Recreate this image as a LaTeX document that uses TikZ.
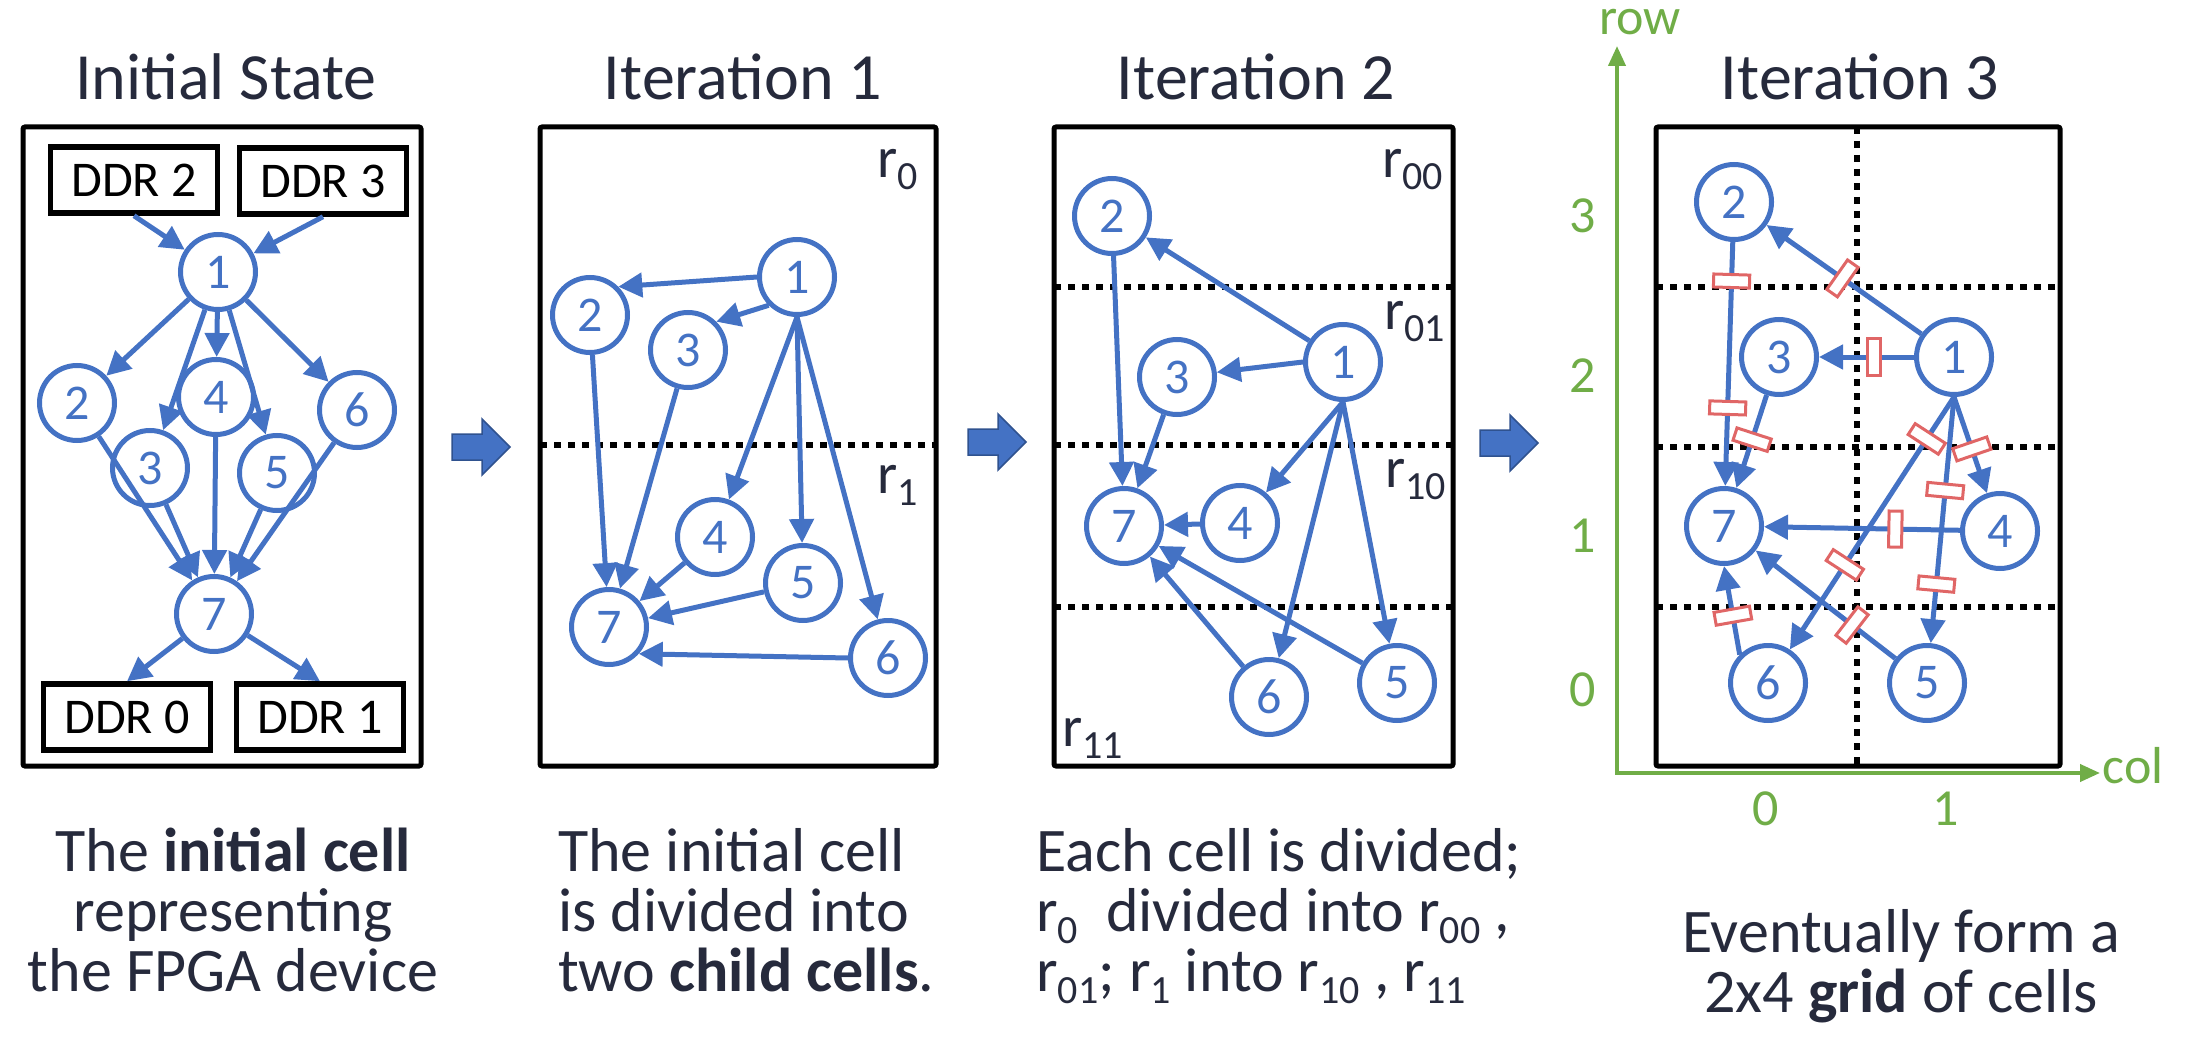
\documentclass[tikz,border=0pt]{standalone}
\usepackage{fontspec}
\setmainfont{Carlito}
\usetikzlibrary{arrows.meta}

\definecolor{nodeblue}{RGB}{68,114,196}
\definecolor{arrowedge}{RGB}{47,82,143}
\definecolor{axisgreen}{RGB}{112,173,71}
\definecolor{markred}{RGB}{224,102,102}
\definecolor{inkblue}{RGB}{38,42,60}

% r with a large, low subscript
\newcommand{\rs}[1]{r\raisebox{-12pt}{\fontsize{40}{40}\selectfont #1}}

\tikzset{
  vertex/.style={circle, draw=nodeblue, fill=white, line width=5pt, minimum size=75pt,
    inner sep=0pt, text=nodeblue, font=\fontsize{50}{50}\selectfont},
  ddr/.style={draw=black, fill=white, line width=5.5pt, minimum width=167pt, minimum height=66pt,
    inner sep=0pt, font=\fontsize{50}{50}\selectfont},
  link/.style={draw=nodeblue, line width=5pt, -{Triangle[length=24pt,width=24pt]}},
  cellbox/.style={draw=black, line width=5pt, rounded corners=2pt},
  cutline/.style={black, line width=6.5pt, dash pattern=on 7pt off 7pt},
  cutmark/.style={draw=markred, fill=white, line width=3pt, minimum width=13pt,
    minimum height=36pt, inner sep=0pt, sloped},
  blockarrow/.style={fill=nodeblue, draw=arrowedge, line width=1.5pt},
  axisline/.style={draw=axisgreen, line width=4pt},
  heading/.style={text=inkblue, font=\fontsize{66}{66}\selectfont, anchor=base},
  captiontext/.style={text=inkblue, font=\fontsize{62}{62}\selectfont, inner sep=0pt},
  regionlabel/.style={text=inkblue, font=\fontsize{58}{58}\selectfont, inner sep=0pt},
  gridlabel/.style={text=axisgreen, font=\fontsize{52}{52}\selectfont, inner sep=0pt}
}

\begin{document}
\begin{tikzpicture}[x=1pt, y=-1pt]
  \useasboundingbox (0,0) rectangle (2186,1064);

  % Titles
  \node[heading] (t0) at (226,100) {Initial State};
  \node[heading] (t1) at (743,100) {Iteration 1};
  \node[heading] (t2) at (1256,100) {Iteration 2};
  \node[heading] (t3) at (1860,100) {Iteration 3};

  % Cells
  \draw[cellbox] (23,127) rectangle (421,766);
  \draw[cellbox] (540,127) rectangle (936,766);
  \draw[cellbox] (1054,127) rectangle (1453,766);
  \draw[cellbox] (1656,127) rectangle (2060,766);

  % Cell borders
  \draw[cutline] (540,445) -- (936,445);
  \foreach \y in {287,445,607}
    \draw[cutline] (1054,\y) -- (1453,\y);
  \foreach \y in {287,447,607}
    \draw[cutline] (1656,\y) -- (2060,\y);
  \draw[cutline] (1857,127) -- (1857,766);

  % Region names
  \node[regionlabel, anchor=base east] (r0) at (918,178) {\rs{0}};
  \node[regionlabel, anchor=base east] (r1) at (918,493) {\rs{1}};
  \node[regionlabel, anchor=base east] (r00) at (1443,178) {\rs{00}};
  \node[regionlabel, anchor=base east] (r01) at (1445,330) {\rs{01}};
  \node[regionlabel, anchor=base east] (r10) at (1446,487) {\rs{10}};
  \node[regionlabel, anchor=base west] (r11) at (1062,746) {\rs{11}};

  % Memory banks
  \node[ddr] (ddr2) at (134,180) {DDR 2};
  \node[ddr] (ddr3) at (323,181) {DDR 3};
  \node[ddr] (ddr0) at (127,717) {DDR 0};
  \node[ddr] (ddr1) at (320,717) {DDR 1};

  % Task graphs, one per step
  \foreach \n/\x/\y in {1/218/272, 2/77/403, 3/150/468, 4/216/397, 5/277/473, 6/357/410, 7/214/614}
    \node[vertex] (a\n) at (\x,\y) {\n};
  \foreach \n/\x/\y in {1/797/277, 2/590/315, 3/688/350, 4/715/537, 5/803/583, 6/888/658, 7/609/627}
    \node[vertex] (b\n) at (\x,\y) {\n};
  \foreach \n/\x/\y in {1/1343/362, 2/1112/216, 3/1177/377, 4/1240/523, 5/1397/683, 6/1269/697, 7/1124/526}
    \node[vertex] (c\n) at (\x,\y) {\n};
  \foreach \n/\x/\y in {1/1954/357, 2/1734/202, 3/1779/357, 4/2000/531, 5/1927/683, 6/1768/683, 7/1724/526}
    \node[vertex] (d\n) at (\x,\y) {\n};

  \foreach \s/\t in {1/2,1/3,1/4,1/5,1/6,2/7,3/7,4/7,5/7,6/7}
    \draw[link] (a\s) -- (a\t);
  \draw[link] (ddr2.south) -- (a1);
  \draw[link] (ddr3.south) -- (a1);
  \draw[link] (a7) -- (ddr0.north);
  \draw[link] (a7) -- (ddr1.north);

  \foreach \s/\t in {b1.west/b2.north east, b1.south west/b3.north east, b1.south/b4, b1.south/b5,
      b1.south/b6, b2/b7, b3/b7, b4/b7, b5/b7, b6.west/b7.-42}
    \draw[link] (\s) -- (\t);
  \foreach \s/\t in {c1/c2, c1.west/c3, c1.south/c4, c1.south/c5, c1.south/c6,
      c2/c7, c3/c7, c4/c7, c5/c7, c6/c7}
    \draw[link] (\s) -- (\t);
  \foreach \s/\t in {d1/d2, d1.west/d3, d1.south/d4, d1.south/d5, d1.south/d6,
      d2/d7, d3/d7, d4/d7, d5/d7, d6.north west/d7.south}
    \draw[link] (\s) -- (\t);

  % Cut edges
  \foreach \s/\t/\p [count=\k] in {d2/d7/0.16, d1/d2/0.51, d1/d3/0.42, d2/d7/0.68, d3/d7/0.48,
      d1.south/d6/0.166, d1.south/d4/0.54, d1.south/d5/0.38, d4/d7/0.33, d1.south/d6/0.665,
      d1.south/d5/0.76, d6.north west/d7.south/0.44, d5/d7/0.31}
    \path (\s) -- (\t) node[cutmark, pos=\p] (m\k) {};

  % Step arrows
  \foreach \ax/\ay in {452/447, 968/442, 1480/443}
    \filldraw[blockarrow] (\ax,\ay-13) -- ++(30,0) -- ++(0,-15) -- ++(28,28)
      -- ++(-28,28) -- ++(0,-15) -- ++(-30,0) -- cycle;

  % Grid axes
  \coordinate (rowtip) at (1617,46);
  \coordinate (coltip) at (2100,773);
  \draw[axisline, {Triangle[length=20pt,width=17pt]}-{Triangle[length=20pt,width=17pt]}] (rowtip) |- (coltip);
  \node[gridlabel, anchor=base] (rowname) at (1640,35) {row};
  \node[gridlabel, anchor=base] (colname) at (2133,783) {col};
  \foreach \r/\y in {3/216, 2/376, 1/536, 0/690}
    \node[gridlabel] (row\r) at (1583,\y) {\r};
  \node[gridlabel] (col0) at (1766,809) {0};
  \node[gridlabel] (col1) at (1946,809) {1};

  % Captions
  \foreach \line [count=\i] in {{The \textbf{initial cell}}, {representing}, {the FPGA device}}
    \node[captiontext, anchor=base] (capa\i) at (233,811+60*\i) {\line};
  \foreach \line [count=\i] in {{The initial cell}, {is divided into}, {two \textbf{child cells}.}}
    \node[captiontext, anchor=base west] (capb\i) at (558,811+60*\i) {\line};
  \foreach \line [count=\i] in {{Each cell is divided;}, {\rs{0}~ divided into \rs{00} ,},
      {\rs{01}; \rs{1} into \rs{10} , \rs{11}}}
    \node[captiontext, anchor=base west] (capc\i) at (1036,811+60*\i) {\line};
  \foreach \line [count=\i] in {{Eventually form a}, {2x4 \textbf{grid} of cells}}
    \node[captiontext, anchor=base] (capd\i) at (1901,892+60*\i) {\line};
\end{tikzpicture}
\end{document}
